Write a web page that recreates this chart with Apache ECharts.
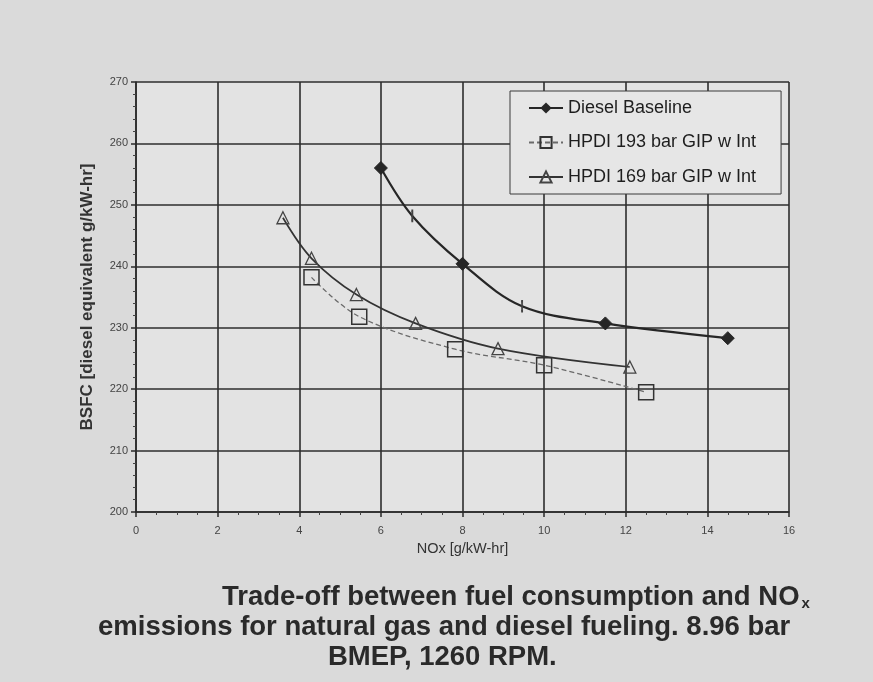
<!DOCTYPE html>
<html>
<head>
<meta charset="utf-8">
<script src="https://cdn.jsdelivr.net/npm/echarts@6/dist/echarts.min.js"></script>
<style>
  html, body { margin: 0; padding: 0; background: #dadada; }
  #chart { width: 873px; height: 682px; }
</style>
</head>
<body>
<div id="chart"></div>
<script>
// ---- data ----
var xTicks = [0, 2, 4, 6, 8, 10, 12, 14, 16];
var yTicks = [200, 210, 220, 230, 240, 250, 260, 270];

var seriesNames = ['Diesel Baseline', 'HPDI 193 bar GIP w Int', 'HPDI 169 bar GIP w Int'];

// Diesel Baseline (diamond markers)
var dieselX = [6.0, 8.0, 11.5, 14.5];
var dieselY = [256.0, 240.4, 230.7, 228.3];
// small tick marks drawn on the diesel curve
var dieselTickX = [6.77, 9.46];
var dieselTickY = [248.2, 233.5];

// HPDI 193 bar GIP w Int (squares)
var hpdi193X = [4.3, 5.47, 7.82, 10.0, 12.5];
var hpdi193Y = [238.2, 231.8, 226.5, 223.9, 219.5];

// HPDI 169 bar GIP w Int (triangles)
var hpdi169X = [3.6, 4.3, 5.4, 6.85, 8.87, 12.1];
var hpdi169Y = [247.9, 241.3, 235.4, 230.7, 226.6, 223.6];

var captionLine1 = 'Trade-off between fuel consumption and NO';
var captionSub = 'x';
var captionLine2 = 'emissions for natural gas and diesel fueling. 8.96 bar';
var captionLine3 = 'BMEP, 1260 RPM.';
var xName = 'NOx [g/kW-hr]';
var yName = 'BSFC [diesel equivalent g/kW-hr]';

// ---- build ----
function pairs(xs, ys) { return xs.map(function (x, i) { return [x, ys[i]]; }); }

var dieselData = pairs(dieselX, dieselY).map(function (p) { return { value: p }; })
  .concat(pairs(dieselTickX, dieselTickY).map(function (p) {
    return { value: p, symbol: 'rect', symbolSize: [1.5, 10],
      itemStyle: { color: '#444', borderColor: '#444' } };
  }))
  .sort(function (a, b) { return a.value[0] - b.value[0]; });

var chart = echarts.init(document.getElementById('chart'), null, { renderer: 'canvas' });
var FONT = '"Liberation Sans", Arial, sans-serif';
var CAP = 27.5;

chart.setOption({
  backgroundColor: '#dadada',
  animation: false,
  textStyle: { fontFamily: FONT },
  grid: {
    left: 136, right: 84, top: 82, bottom: 170,
    show: true, backgroundColor: '#e3e3e3', borderWidth: 0
  },
  legend: {
    left: 510, top: 91,
    orient: 'vertical',
    data: seriesNames,
    backgroundColor: '#e6e6e6',
    borderColor: '#3a3a3a', borderWidth: 1,
    padding: [8, 25, 8, 18],
    itemGap: 16.5,
    itemWidth: 34, itemHeight: 14,
    textStyle: { fontSize: 18, color: '#1e1e1e', fontFamily: FONT }
  },
  xAxis: {
    type: 'value', min: 0, max: 16, interval: 2,
    name: xName, nameLocation: 'middle', nameGap: 29,
    nameTextStyle: { fontSize: 14.5, color: '#333' },
    axisLine: { show: true, lineStyle: { color: '#2a2a2a', width: 1.5 } },
    axisTick: { show: true, length: 5, lineStyle: { color: '#2a2a2a', width: 1.5 } },
    minorTick: { show: true, splitNumber: 4, length: 3, lineStyle: { color: '#444' } },
    splitLine: { show: true, lineStyle: { color: '#2e2e2e', width: 1.6 } },
    axisLabel: { fontSize: 11, color: '#444', margin: 13,
      formatter: function (v) { return xTicks.indexOf(v) >= 0 ? String(v) : ''; } }
  },
  yAxis: {
    type: 'value', min: 200, max: 270, interval: 10,
    name: yName, nameLocation: 'middle', nameGap: 40,
    nameTextStyle: { fontSize: 17, color: '#333', fontWeight: 'bold' },
    axisLine: { show: true, lineStyle: { color: '#2a2a2a', width: 1.5 } },
    axisTick: { show: true, length: 5, lineStyle: { color: '#2a2a2a', width: 1.5 } },
    minorTick: { show: true, splitNumber: 5, length: 3, lineStyle: { color: '#444' } },
    splitLine: { show: true, lineStyle: { color: '#2e2e2e', width: 1.6 } },
    axisLabel: { fontSize: 11, color: '#444', margin: 8,
      formatter: function (v) { return yTicks.indexOf(v) >= 0 ? String(v) : ''; } }
  },
  series: [
    {
      name: seriesNames[0], type: 'line', smooth: 0.35,
      data: dieselData,
      symbol: 'diamond', symbolSize: 13,
      lineStyle: { color: '#262626', width: 2.2 },
      itemStyle: { color: '#262626', borderColor: '#262626' },
      z: 5
    },
    {
      name: seriesNames[1], type: 'line', smooth: 0.35,
      data: pairs(hpdi193X, hpdi193Y),
      symbol: 'rect', symbolSize: 15,
      lineStyle: { color: '#6a6a6a', width: 1.3, type: [5, 3] },
      itemStyle: { color: 'rgba(0,0,0,0)', borderColor: '#333', borderWidth: 1.5 },
      z: 4
    },
    {
      name: seriesNames[2], type: 'line', smooth: 0.35,
      data: pairs(hpdi169X, hpdi169Y),
      symbol: 'triangle', symbolSize: 12,
      lineStyle: { color: '#333', width: 1.7 },
      itemStyle: { color: 'rgba(0,0,0,0)', borderColor: '#444', borderWidth: 1.3 },
      z: 4
    }
  ],
  graphic: [
    {
      type: 'text', left: 222, top: 583,
      style: {
        text: '{m|' + captionLine1 + '}{s|' + captionSub + '}',
        rich: {
          m: { fontSize: CAP, fontWeight: 'bold', fontFamily: FONT, fill: '#2a2a2a' },
          s: { fontSize: 15, fontWeight: 'bold', fontFamily: FONT, fill: '#2a2a2a', padding: [14, 0, 0, 2] }
        }
      }
    },
    {
      type: 'text', left: 98, top: 613,
      style: { text: captionLine2, fontSize: CAP, fontWeight: 'bold', fontFamily: FONT, fill: '#2a2a2a' }
    },
    {
      type: 'text', left: 328, top: 643,
      style: { text: captionLine3, fontSize: CAP, fontWeight: 'bold', fontFamily: FONT, fill: '#2a2a2a' }
    }
  ]
});
</script>
</body>
</html>
